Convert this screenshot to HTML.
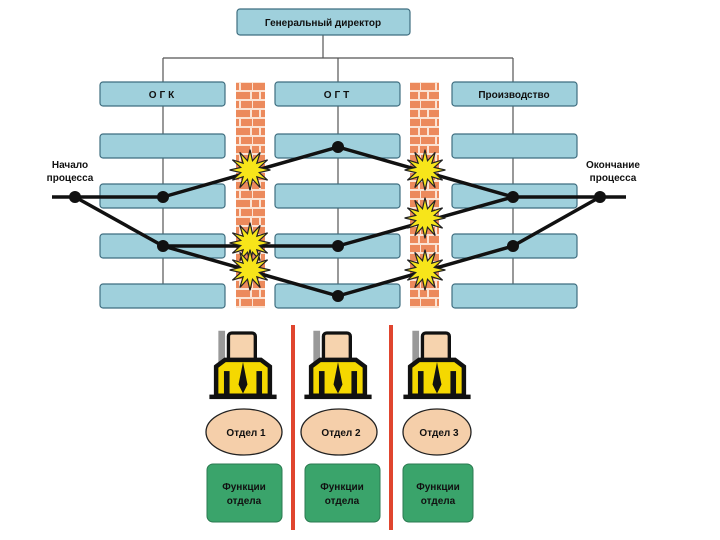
<!DOCTYPE html>
<html><head><meta charset="utf-8"><style>
html,body{margin:0;padding:0;background:#fff;}
svg{display:block;font-family:"Liberation Sans",sans-serif;}
</style></head><body>
<svg width="720" height="540" viewBox="0 0 720 540" xmlns="http://www.w3.org/2000/svg">
<defs>
<pattern id="brick" x="0" y="82" width="28" height="18" patternUnits="userSpaceOnUse">
<rect width="28" height="18" fill="#fbe3d3"/>
<rect x="1" y="1" width="14" height="7" fill="#ec8a5c"/><rect x="17" y="1" width="11" height="7" fill="#ec8a5c"/>
<rect x="0" y="10" width="7" height="7" fill="#ec8a5c"/><rect x="9" y="10" width="17" height="7" fill="#ec8a5c"/>
</pattern>
<g id="star"><polygon transform="scale(1.2)" points="17,0 7.7,2.1 14.7,8.5 5.7,5.7 8.5,14.7 2.1,7.7 0,17 -2.1,7.7 -8.5,14.7 -5.7,5.7 -14.7,8.5 -7.7,2.1 -17,0 -7.7,-2.1 -14.7,-8.5 -5.7,-5.7 -8.5,-14.7 -2.1,-7.7 0,-17 2.1,-7.7 8.5,-14.7 5.7,-5.7 14.7,-8.5 7.7,-2.1" fill="#f7e51a" stroke="#222" stroke-width="1"/></g>
<g id="person" transform="scale(1.12)">
<rect x="-22" y="-2" width="6" height="40" fill="#999"/>
<rect x="-13" y="0" width="24" height="26" rx="3" fill="#f6d3ae" stroke="#111" stroke-width="3"/>
<path d="M-24,30 L-16,24 L16,24 L24,30 L24,56 L-24,56 Z" fill="#f5d800" stroke="#111" stroke-width="4"/>
<rect x="-17" y="34" width="5" height="22" fill="#111"/><rect x="12" y="34" width="5" height="22" fill="#111"/>
<path d="M0,26 L-4,46 L0,54 L4,46 Z" fill="#111"/>
<rect x="-30" y="55" width="60" height="4" fill="#111"/>
</g>
</defs>
<g stroke="#555" stroke-width="1.2" fill="none">
<line x1="323" y1="35" x2="323" y2="58"/>
<line x1="163" y1="58" x2="513" y2="58"/>
<line x1="163" y1="58" x2="163" y2="308"/>
<line x1="338" y1="58" x2="338" y2="308"/>
<line x1="513" y1="58" x2="513" y2="308"/>
</g>
<rect x="237" y="9" width="173" height="26" rx="3" fill="#9fd0dc" stroke="#3f6e80" stroke-width="1.2"/>
<text x="323" y="26" font-size="10" font-weight="bold" text-anchor="middle" fill="#111">Генеральный директор</text>
<g fill="#9fd0dc" stroke="#3f6e80" stroke-width="1.2">
<rect x="100" y="82" width="125" height="24" rx="3"/><rect x="275" y="82" width="125" height="24" rx="3"/><rect x="452" y="82" width="125" height="24" rx="3"/>
<rect x="100" y="134" width="125" height="24" rx="3"/><rect x="275" y="134" width="125" height="24" rx="3"/><rect x="452" y="134" width="125" height="24" rx="3"/>
<rect x="100" y="184" width="125" height="24" rx="3"/><rect x="275" y="184" width="125" height="24" rx="3"/><rect x="452" y="184" width="125" height="24" rx="3"/>
<rect x="100" y="234" width="125" height="24" rx="3"/><rect x="275" y="234" width="125" height="24" rx="3"/><rect x="452" y="234" width="125" height="24" rx="3"/>
<rect x="100" y="284" width="125" height="24" rx="3"/><rect x="275" y="284" width="125" height="24" rx="3"/><rect x="452" y="284" width="125" height="24" rx="3"/>
</g>
<g font-size="10" font-weight="bold" text-anchor="middle" fill="#111">
<text x="163" y="98" letter-spacing="3">ОГК</text>
<text x="338" y="98" letter-spacing="3">ОГТ</text>
<text x="514" y="98">Производство</text>
</g>
<rect x="236" y="82" width="29" height="226" fill="url(#brick)"/>
<rect x="410" y="82" width="29" height="226" fill="url(#brick)"/>
<g stroke="#111" stroke-width="3.5" fill="none" stroke-linejoin="round">
<polyline points="52,197 163,197 338,147 513,197 626,197"/>
<polyline points="75,197 163,246 338,246 513,197"/>
<polyline points="163,246 338,296 513,246 600,197"/>
</g>
<g fill="#111">
<circle cx="75" cy="197" r="6"/><circle cx="163" cy="197" r="6"/><circle cx="163" cy="246" r="6"/>
<circle cx="338" cy="147" r="6"/><circle cx="338" cy="246" r="6"/><circle cx="338" cy="296" r="6"/>
<circle cx="513" cy="197" r="6"/><circle cx="513" cy="246" r="6"/><circle cx="600" cy="197" r="6"/>
</g>
<use href="#star" x="250" y="170"/><use href="#star" x="250" y="243"/><use href="#star" x="250" y="270"/>
<use href="#star" x="425" y="170"/><use href="#star" x="425" y="218"/><use href="#star" x="425" y="270"/>
<g font-size="10" font-weight="bold" text-anchor="middle" fill="#111">
<text x="70" y="168">Начало</text><text x="70" y="181">процесса</text>
<text x="613" y="168">Окончание</text><text x="613" y="181">процесса</text>
</g>
<rect x="291" y="325" width="4" height="205" fill="#e0452e"/>
<rect x="389" y="325" width="4" height="205" fill="#e0452e"/>
<use href="#person" x="243" y="333"/><use href="#person" x="338" y="333"/><use href="#person" x="437" y="333"/>
<g fill="#f5cfaa" stroke="#222" stroke-width="1.3">
<ellipse cx="244" cy="432" rx="38" ry="23"/><ellipse cx="339" cy="432" rx="38" ry="23"/><ellipse cx="437" cy="432" rx="34" ry="23"/>
</g>
<g fill="#3aa46b" stroke="#2b7a50" stroke-width="1">
<rect x="207" y="464" width="75" height="58" rx="6"/><rect x="305" y="464" width="75" height="58" rx="6"/><rect x="403" y="464" width="70" height="58" rx="6"/>
</g>
<g font-size="10" font-weight="bold" text-anchor="middle" fill="#111">
<text x="246" y="436">Отдел 1</text><text x="341" y="436">Отдел 2</text><text x="439" y="436">Отдел 3</text>
<text x="244" y="490">Функции</text><text x="244" y="504">отдела</text>
<text x="342" y="490">Функции</text><text x="342" y="504">отдела</text>
<text x="438" y="490">Функции</text><text x="438" y="504">отдела</text>
</g>
</svg>
</body></html>
